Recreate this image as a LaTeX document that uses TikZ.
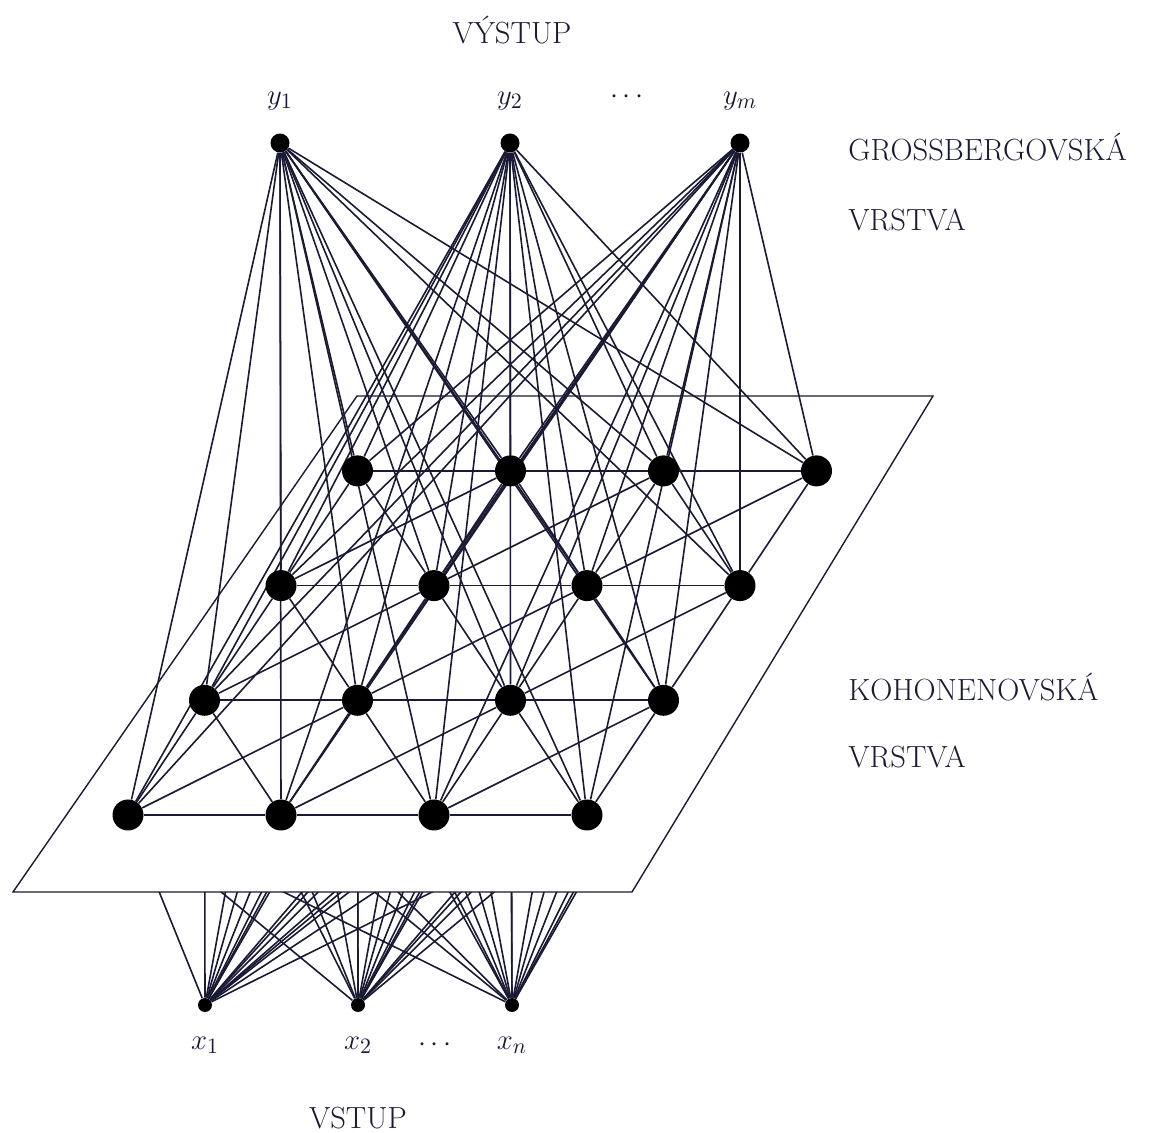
\documentclass[tikz,border=0pt]{standalone}
\usepackage{fontspec}
\definecolor{ink}{RGB}{26,26,52}
\pgfdeclarelayer{inl}
\pgfdeclarelayer{pln}
\pgfdeclarelayer{lns}
\pgfsetlayers{inl,pln,lns,main}
\begin{document}
\begin{tikzpicture}[x=0.5pt,y=-0.5pt,
  knode/.style={circle, fill=black, draw=none, minimum size=15.5pt, inner sep=0pt},
  onode/.style={circle, fill=black, draw=none, minimum size=9.5pt, inner sep=0pt},
  inode/.style={circle, fill=black, draw=none, minimum size=7pt, inner sep=0pt},
  conn/.style={draw=ink, line width=0.8pt},
  planeedge/.style={draw=ink, line width=0.7pt, fill=white},
  lbl/.style={text=ink, font=\fontsize{15.3}{18}\selectfont, inner sep=0pt}]
\useasboundingbox (0,0) rectangle (1163,1133);

% Kohonen grid nodes
\foreach \i in {0,...,3}{
  \foreach \j in {0,...,3}{
    \node[knode] (k\i\j) at ({128+153*\j+76.5*\i},{815-114.7*\i}) {};
  }
}
% output nodes
\node[onode] (oy1) at (280,143) {};
\node[onode] (oy2) at (510,143) {};
\node[onode] (oym) at (740,143) {};
% input nodes
\node[inode] (ix1) at (205,1005) {};
\node[inode] (ix2) at (358,1005) {};
\node[inode] (ixn) at (512,1005) {};

% plane corners
\coordinate (p1) at (13,892);
\coordinate (p2) at (632,892);
\coordinate (p3) at (933,396);
\coordinate (p4) at (357,396);

% input connections (hidden by the plane)
\begin{pgfonlayer}{inl}
\foreach \o in {ix1,ix2,ixn}{
  \foreach \i in {0,...,3}{
    \foreach \j in {0,...,3}{
      \draw[conn] (\o) -- (k\i\j);
    }
  }
}
\end{pgfonlayer}

% plane
\begin{pgfonlayer}{pln}
\draw[planeedge] (p1) -- (p2) -- (p3) -- (p4) -- cycle;
\end{pgfonlayer}

% lateral and output connections
\begin{pgfonlayer}{lns}
\foreach \i in {0,...,3}{
  \foreach \j/\jj in {0/1,1/2,2/3}{
    \draw[conn] (k\i\j) -- (k\i\jj);
  }
}
\foreach \i/\ii in {0/1,1/2,2/3}{
  \foreach \j in {0,...,3}{
    \draw[conn] (k\i\j) -- (k\ii\j);
  }
}
\foreach \i/\ii in {0/1,1/2,2/3}{
  \foreach \j/\jj in {0/1,1/2,2/3}{
    \draw[conn] (k\i\j) -- (k\ii\jj);
    \draw[conn] (k\i\jj) -- (k\ii\j);
  }
}
\foreach \o in {oy1,oy2,oym}{
  \foreach \i in {0,...,3}{
    \foreach \j in {0,...,3}{
      \draw[conn] (\o) -- (k\i\j);
    }
  }
}
\end{pgfonlayer}

% labels
\node[lbl] (lvy) at (512,30) {VÝSTUP};
\node[lbl] (lvs) at (358,1118) {VSTUP};
\node[lbl,anchor=west] (lg) at (848,147) {GROSSBERGOVSKÁ};
\node[lbl,anchor=west] (lv1) at (848,220) {VRSTVA};
\node[lbl,anchor=west] (lk) at (848,687) {KOHONENOVSKÁ};
\node[lbl,anchor=west] (lv2) at (848,757) {VRSTVA};
\node[lbl] (ly1) at (280,101) {$y_1$};
\node[lbl] (ly2) at (510,101) {$y_2$};
\node[lbl] (ldy) at (627,97) {$\cdots$};
\node[lbl] (lym) at (740,101) {$y_m$};
\node[lbl] (lx1) at (205,1045) {$x_1$};
\node[lbl] (lx2) at (358,1045) {$x_2$};
\node[lbl] (ldx) at (435,1045) {$\cdots$};
\node[lbl] (lxn) at (512,1045) {$x_n$};
\end{tikzpicture}
\end{document}
